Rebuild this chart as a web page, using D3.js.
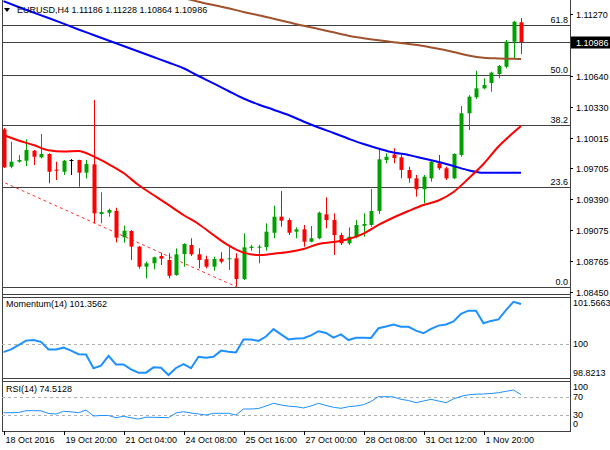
<!DOCTYPE html>
<html>
<head>
<meta charset="utf-8">
<script src="https://cdn.jsdelivr.net/npm/d3@7"></script>
<style>
  body { margin: 0; background: #fff; }
  svg text { font-family: "Liberation Sans", Arial, sans-serif; font-size: 9px; fill: #000; }
</style>
</head>
<body>
<div id="chart"></div>
<script>
// EURUSD H4 bars, 18 Oct 12:00 .. 2 Nov 16:00
const openP = [1.10100,1.09721,1.09772,1.09782,1.09883,1.09816,1.09850,1.09691,1.09670,1.09789,
  1.09789,1.09660,1.09745,1.09241,1.09254,1.09272,1.09005,1.09069,1.08910,1.08707,
  1.08741,1.08815,1.08775,1.08622,1.08835,1.08927,1.08832,1.08782,1.08707,1.08788,
  1.08782,1.08792,1.08582,1.08896,1.08899,1.08906,1.09051,1.09214,1.09180,1.09062,
  1.09086,1.08960,1.08995,1.09238,1.09180,1.09028,1.08944,1.09005,1.09122,1.09130,
  1.09272,1.09789,1.09845,1.09816,1.09688,1.09603,1.09492,1.09603,1.09756,1.09705,
  1.09603,1.09840,1.10263,1.10425,1.10516,1.10570,1.10661,1.10735,1.10989,1.11186];
const highP = [1.10114,1.09975,1.09840,1.09999,1.09890,1.10053,1.09857,1.09772,1.09789,1.09799,
  1.09792,1.09789,1.10398,1.09461,1.09295,1.09305,1.09122,1.09079,1.08917,1.08757,
  1.08808,1.08849,1.08843,1.08893,1.08944,1.08995,1.08893,1.08818,1.08808,1.08853,
  1.08910,1.08843,1.09045,1.08927,1.08927,1.09147,1.09325,1.09474,1.09198,1.09106,
  1.09130,1.09119,1.09265,1.09411,1.09248,1.09051,1.09106,1.09180,1.09248,1.09495,
  1.09898,1.09857,1.09908,1.09840,1.09721,1.09637,1.09637,1.09789,1.09840,1.09721,
  1.09857,1.10337,1.10448,1.10695,1.10618,1.10685,1.10753,1.11006,1.11199,1.11228];
const lowP = [1.09708,1.09705,1.09762,1.09728,1.09738,1.09806,1.09553,1.09586,1.09637,1.09637,
  1.09518,1.09603,1.09147,1.09147,1.09214,1.08954,1.08950,1.08775,1.08686,1.08589,
  1.08680,1.08724,1.08589,1.08615,1.08707,1.08815,1.08690,1.08690,1.08666,1.08741,
  1.08673,1.08504,1.08572,1.08869,1.08741,1.08869,1.08995,1.09112,1.09028,1.08995,
  1.08910,1.08954,1.08985,1.09096,1.08825,1.08927,1.08927,1.08995,1.09011,1.09112,
  1.09241,1.09756,1.09756,1.09603,1.09559,1.09417,1.09350,1.09569,1.09688,1.09586,
  1.09596,1.09822,1.10093,1.10408,1.10506,1.10482,1.10618,1.10719,1.10821,1.10864];
const closeP = [1.09715,1.09772,1.09789,1.09890,1.09822,1.09850,1.09670,1.09680,1.09782,1.09789,
  1.09660,1.09748,1.09248,1.09262,1.09282,1.09001,1.09072,1.08910,1.08707,1.08741,
  1.08802,1.08788,1.08615,1.08832,1.08937,1.08832,1.08775,1.08707,1.08785,1.08757,
  1.08792,1.08582,1.08903,1.08910,1.08910,1.09062,1.09214,1.09173,1.09051,1.09086,
  1.08960,1.08995,1.09254,1.09180,1.09028,1.08944,1.09011,1.09130,1.09140,1.09272,
  1.09796,1.09822,1.09809,1.09688,1.09603,1.09492,1.09620,1.09772,1.09705,1.09603,
  1.09850,1.10263,1.10431,1.10516,1.10550,1.10675,1.10743,1.10989,1.11192,1.10986];

// moving averages, read every second bar
const maIdx = [0,2,4,6,8,10,12,14,16,18,20,22,24,26,28,30,32,34,36,38,40,42,44,46,48,50,
  52,54,56,58,60,62,64,66,68,69];
const maFast = [1.10043,1.09987,1.09941,1.09887,1.09875,1.09880,1.09825,1.09748,1.09657,1.09535,
  1.09434,1.09333,1.09231,1.09140,1.09028,1.08922,1.08849,1.08825,1.08839,1.08856,
  1.08886,1.08937,1.08957,1.08988,1.09043,1.09130,1.09206,1.09272,1.09333,1.09378,
  1.09464,1.09601,1.09748,1.09926,1.10068,1.10134];
const maMid = [1.11400,1.11341,1.11285,1.11229,1.11172,1.11113,1.11057,1.11001,1.10945,1.10890,
  1.10834,1.10778,1.10720,1.10641,1.10567,1.10489,1.10413,1.10352,1.10299,1.10245,
  1.10180,1.10119,1.10063,1.10005,1.09951,1.09906,1.09865,1.09840,1.09804,1.09769,
  1.09728,1.09685,1.09660,1.09659,1.09659,1.09659];
const maSlow = [null,null,null,null,null,null,null,null,null,null,
  null,1.11468,1.11432,1.11395,1.11361,1.11328,1.11290,1.11257,1.11221,1.11186,
  1.11150,1.11118,1.11084,1.11050,1.11025,1.11003,1.10983,1.10966,1.10945,1.10917,
  1.10885,1.10849,1.10826,1.10819,1.10816,1.10814];

const momentum = [99.72,99.81,99.96,100.11,100.13,100.07,99.81,99.81,99.87,99.77,
  99.65,99.64,99.17,99.26,99.59,99.30,99.30,99.13,99.02,99.02,
  99.20,99.19,98.94,99.18,99.31,99.17,99.56,99.53,99.56,99.77,
  99.73,99.71,100.15,100.15,100.10,100.25,100.50,100.32,100.15,100.18,
  100.19,100.29,100.43,100.37,100.21,100.32,100.13,100.21,100.21,100.20,
  100.53,100.59,100.66,100.58,100.58,100.45,100.36,100.51,100.62,100.66,
  100.76,101.02,101.13,101.13,100.70,100.78,100.83,101.15,101.43,101.3562];
const rsi = [35.0,35.0,35.4,39.4,39.4,39.2,33.3,32.2,38.1,37.0,
  35.0,40.9,27.8,28.9,28.9,24.1,27.1,23.9,21.2,25.2,
  24.9,24.5,24.1,34.4,37.2,34.4,32.2,30.0,33.7,33.7,
  33.7,30.0,43.1,43.1,44.2,49.7,55.6,51.9,49.2,48.1,
  45.3,49.7,55.6,50.8,46.8,44.6,48.1,49.7,52.5,59.5,
  70.0,70.0,69.4,64.3,61.7,56.9,60.6,64.3,60.6,56.9,
  65.0,70.9,74.2,75.5,75.9,77.0,78.8,81.8,84.7,74.5128];

const priceTicks = [1.11270,1.10640,1.10330,1.10015,1.09705,1.09390,1.09075,1.08765,1.08450];
const fibLow = 1.08504, fibHigh = 1.12802;
const fibLevels = [0, 23.6, 38.2, 50.0, 61.8];
const trendFrom = [-0.5, 1.09581], trendTo = [31, 1.08504];
const momLevels = [101.5663, 100, 98.8213];
const rsiLevels = [100, 70, 30, 0];
const timeTickIdx = [0, 8, 16, 24, 32, 40, 48, 56, 64];
const timeLabels = ["18 Oct 2016","19 Oct 20:00","21 Oct 04:00","24 Oct 08:00","25 Oct 16:00",
  "27 Oct 00:00","28 Oct 08:00","31 Oct 12:00","1 Nov 20:00"];

class CandleChart {
  constructor(_config) {
    this.config = {
      parentElement: _config.parentElement,
      containerWidth: 610,
      containerHeight: 450,
      left: 2,
      right: 570,
      main: { top: 0, bottom: 294 },
      mom: { top: 297, bottom: 378 },
      rsi: { top: 381, bottom: 431 },
      up: "#00a000",
      down: "#ff0000",
      frame: "#404040",
    };
    this.initVis();
  }

  initVis() {
    let vis = this;
    const c = vis.config;

    vis.svg = d3.select(c.parentElement).append("svg")
      .attr("width", c.containerWidth)
      .attr("height", c.containerHeight);

    vis.x = d3.scaleLinear().domain([0, 69]).range([3.5, 521]);
    vis.y = d3.scaleLinear().domain([1.0845, 1.1127]).range([292, 14]);
    vis.yMom = d3.scaleLinear().domain([98.8213, 101.5663]).range([378.5, 297.8]);
    vis.yRsi = d3.scaleLinear().domain([0, 100]).range([428.7, 383]);

    const defs = vis.svg.append("defs");
    ["main", "mom", "rsi"].forEach((p) => {
      defs.append("clipPath").attr("id", "clip-" + p).append("rect")
        .attr("x", c.left).attr("y", c[p].top)
        .attr("width", c.right - c.left).attr("height", c[p].bottom - c[p].top);
    });

    vis.renderVis();
  }

  renderVis() {
    let vis = this;
    const c = vis.config;
    const fmt = d3.format(".5f");

    // frames
    const frame = vis.svg.append("g").attr("stroke", c.frame).attr("fill", "none");
    frame.append("line").attr("x1", c.left + 0.5).attr("x2", c.left + 0.5).attr("y1", 0).attr("y2", c.rsi.bottom);
    frame.append("line").attr("x1", c.right + 0.5).attr("x2", c.right + 0.5).attr("y1", 0).attr("y2", c.rsi.bottom);
    [c.main.bottom, c.mom.top, c.mom.bottom, c.rsi.top, c.rsi.bottom].forEach((yy) => {
      frame.append("line").attr("x1", c.left).attr("x2", c.right + 1)
        .attr("y1", yy + 0.5).attr("y2", yy + 0.5);
    });

    // ---- main panel
    const main = vis.svg.append("g").attr("clip-path", "url(#clip-main)");

    fibLevels.forEach((lv) => {
      const yy = Math.round(vis.y(fibLow + (fibHigh - fibLow) * lv / 100)) + 0.5;
      main.append("line").attr("x1", c.left).attr("x2", c.right)
        .attr("y1", yy).attr("y2", yy).attr("stroke", "#404040");
      vis.svg.append("text").attr("x", c.right - 2).attr("y", yy - 2.5)
        .attr("text-anchor", "end").attr("fill", "#333").text(lv.toFixed(1));
    });

    const lastClose = closeP[closeP.length - 1];
    const yLast = Math.round(vis.y(lastClose)) + 0.5;
    main.append("line").attr("x1", c.left).attr("x2", c.right)
      .attr("y1", yLast).attr("y2", yLast).attr("stroke", "#404040");

    main.append("line")
      .attr("x1", vis.x(trendFrom[0])).attr("y1", vis.y(trendFrom[1]))
      .attr("x2", vis.x(trendTo[0])).attr("y2", vis.y(trendTo[1]))
      .attr("stroke", "#ff3030").attr("stroke-dasharray", "3,3");

    const bars = openP.map((o, i) => ({ i, o, h: highP[i], l: lowP[i], c: closeP[i] }));
    const colorOf = (d) => (d.c > d.o ? c.up : d.c < d.o ? c.down : "#000");

    main.selectAll(".wick").data(bars).join("line")
      .attr("class", "wick")
      .attr("x1", (d) => Math.round(vis.x(d.i)) + 0.5)
      .attr("x2", (d) => Math.round(vis.x(d.i)) + 0.5)
      .attr("y1", (d) => vis.y(d.h))
      .attr("y2", (d) => vis.y(d.l))
      .attr("stroke", colorOf);

    main.selectAll(".body").data(bars).join("rect")
      .attr("class", "body")
      .attr("x", (d) => Math.round(vis.x(d.i)) - 1.5)
      .attr("width", 4)
      .attr("y", (d) => vis.y(Math.max(d.o, d.c)))
      .attr("height", (d) => Math.max(1, Math.abs(vis.y(d.o) - vis.y(d.c))))
      .attr("fill", colorOf);

    const maLine = (vals) => d3.line()
      .defined((d, k) => vals[k] !== null)
      .x((d) => vis.x(d))
      .y((d, k) => vis.y(vals[k]))
      .curve(d3.curveMonotoneX)(maIdx);

    [[maSlow, "#a0522d"], [maMid, "#0000ff"], [maFast, "#ff0000"]].forEach(([vals, col]) => {
      main.append("path").attr("d", maLine(vals))
        .attr("fill", "none").attr("stroke", col).attr("stroke-width", 2);
    });

    // header
    vis.svg.append("path").attr("d", "M4,8 L10,8 L7,12 Z").attr("fill", "#000");
    const last = bars[bars.length - 1];
    vis.svg.append("text").attr("x", 17).attr("y", 13)
      .text(`EURUSD,H4  ${fmt(last.o)} ${fmt(last.h)} ${fmt(last.l)} ${fmt(last.c)}`);

    // price axis
    const axis = vis.svg.append("g");
    priceTicks.forEach((p) => {
      const yy = Math.round(vis.y(p)) + 0.5;
      axis.append("line").attr("x1", c.right).attr("x2", c.right + 3)
        .attr("y1", yy).attr("y2", yy).attr("stroke", "#000");
      axis.append("text").attr("x", c.right + 6).attr("y", yy + 3.3).text(fmt(p));
    });
    axis.append("rect").attr("x", c.right + 1).attr("y", yLast - 6)
      .attr("width", 39).attr("height", 12).attr("fill", "#000");
    axis.append("text").attr("x", c.right + 6).attr("y", yLast + 3.3)
      .attr("fill", "#fff").style("fill", "#fff").text(fmt(lastClose));

    // ---- momentum panel
    const mom = vis.svg.append("g").attr("clip-path", "url(#clip-mom)");
    mom.append("line").attr("x1", c.left).attr("x2", c.right)
      .attr("y1", Math.round(vis.yMom(100)) + 0.5).attr("y2", Math.round(vis.yMom(100)) + 0.5)
      .attr("stroke", "#b0b0b0").attr("stroke-dasharray", "3,3");
    mom.append("path")
      .attr("d", d3.line().x((d, i) => vis.x(i)).y((d) => vis.yMom(d))(momentum))
      .attr("fill", "none").attr("stroke", "#1e90ff").attr("stroke-width", 2);
    vis.svg.append("text").attr("x", 6).attr("y", 307)
      .text(`Momentum(14) ${momentum[momentum.length - 1].toFixed(4)}`);
    momLevels.forEach((v, k) => {
      const off = k === 0 ? 8.5 : k === momLevels.length - 1 ? -3 : 3.5;
      vis.svg.append("text").attr("x", c.right + 3).attr("y", vis.yMom(v) + off)
        .text(v === 100 ? "100" : v.toFixed(4));
    });

    // ---- RSI panel
    const rs = vis.svg.append("g").attr("clip-path", "url(#clip-rsi)");
    [70, 30].forEach((v) => {
      const yy = Math.round(vis.yRsi(v)) + 0.5;
      rs.append("line").attr("x1", c.left).attr("x2", c.right)
        .attr("y1", yy).attr("y2", yy)
        .attr("stroke", "#b0b0b0").attr("stroke-dasharray", "3,3");
    });
    rs.append("path")
      .attr("d", d3.line().x((d, i) => vis.x(i)).y((d) => vis.yRsi(d))(rsi))
      .attr("fill", "none").attr("stroke", "#1e90ff").attr("stroke-width", 1);
    vis.svg.append("text").attr("x", 6).attr("y", 392)
      .text(`RSI(14) ${rsi[rsi.length - 1].toFixed(4)}`);
    rsiLevels.forEach((v, k) => {
      const off = k === 0 ? 7.3 : k === rsiLevels.length - 1 ? -1.5 : 3;
      vis.svg.append("text").attr("x", c.right + 3).attr("y", vis.yRsi(v) + off).text(v);
    });

    // ---- time axis
    timeTickIdx.forEach((idx, k) => {
      const xx = Math.round(vis.x(idx)) + 0.5;
      vis.svg.append("line").attr("x1", xx).attr("x2", xx)
        .attr("y1", c.rsi.bottom).attr("y2", c.rsi.bottom + 4).attr("stroke", "#000");
      vis.svg.append("text").attr("x", xx + 1).attr("y", 443).text(timeLabels[k]);
    });
  }
}

new CandleChart({ parentElement: "#chart" });
</script>
</body>
</html>
